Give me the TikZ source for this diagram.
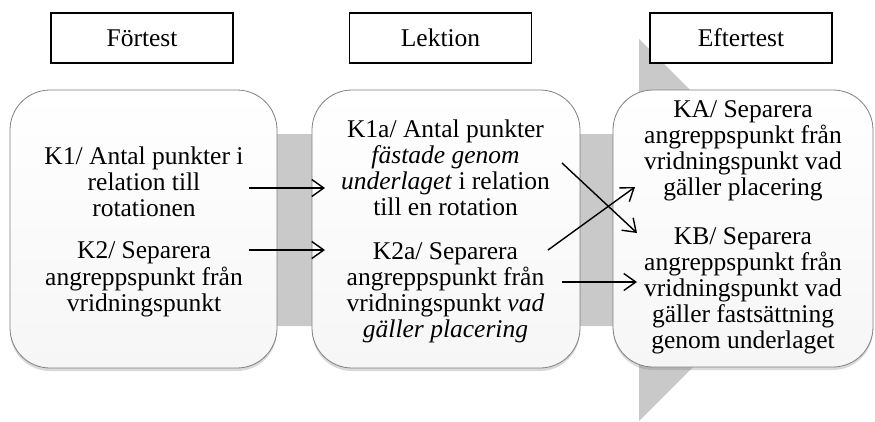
\documentclass[tikz,border=0pt]{standalone}
\usepackage{fontspec}
\setmainfont{Liberation Serif}
\definecolor{bandgray}{RGB}{201, 201, 201}
\definecolor{panelgray}{RGB}{246, 246, 246}
\definecolor{rimgray}{RGB}{128, 128, 128}
\usetikzlibrary{arrows.meta, shadows}

\begin{document}
\begin{tikzpicture}[x=1bp,y=-1bp,
	txt/.style={font=\fontsize{25.5bp}{26bp}\selectfont},
	headbox/.style={txt,draw=black,line width=1.2bp,fill=white,minimum width=182bp,minimum height=50bp},
	phase/.style={draw=rimgray,line width=0.8bp,rounded corners=40bp,top color=white,bottom color=panelgray,
		drop shadow={shadow xshift=0bp,shadow yshift=-3bp,opacity=0.3}},
	link/.style={line width=1.4bp,-{Straight Barb[length=12bp,width=17bp]}}]
	\useasboundingbox (0,0) rectangle (875,421);
	
	% pilen bakom
	\fill[bandgray] (30,134) -- (639,134) -- (639,39) -- (830,230) -- (639,421) -- (639,326) -- (30,326) -- cycle;
	
	\node[headbox] (fore) at (142,38) {Förtest};
	\node[headbox] (lekt) at (440.5,38) {Lektion};
	\node[headbox] (efter) at (741,38) {Eftertest};
	
	\draw[phase] (10,90) rectangle (277,368);
	\draw[phase] (312,90) rectangle (580,368);
	\draw[phase] (613,90) rectangle (873,367);
	
	\node[txt] (k1) at (144,184.8){\begin{tabular}{c}K1/ Antal punkter i\\relation till\\rotationen\end{tabular}};
	\node[txt] (k2) at (144,279.8){\begin{tabular}{c}K2/ Separera\\angreppspunkt från\\vridningspunkt\end{tabular}};
	
	\node[txt] (k1a) at (445.5,171.3){\begin{tabular}{c}K1a/ Antal punkter\\\textit{fästade genom}\\\textit{underlaget} i relation\\till en rotation\end{tabular}};
	\node[txt] (k2a) at (445.5,293.3){\begin{tabular}{c}K2a/ Separera\\angreppspunkt från\\vridningspunkt \textit{vad}\\\textit{gäller placering}\end{tabular}};
	
	\node[txt] (ka) at (743,151.3){\begin{tabular}{c}KA/ Separera\\angreppspunkt från\\vridningspunkt vad\\gäller placering\end{tabular}};
	\node[txt] (kb) at (743,291.3){\begin{tabular}{c}KB/ Separera\\angreppspunkt från\\vridningspunkt vad\\gäller fastsättning\\genom underlaget\end{tabular}};
	
	% pilar mellan kategorierna
	\coordinate (k1ut) at (249,188);
	\coordinate (k1ain) at (325,188);
	\coordinate (k2ut) at (249,250);
	\coordinate (k2ain) at (325,250);
	\coordinate (k1aut) at (562,163);
	\coordinate (kbin) at (637,233);
	\coordinate (k2aut) at (548,250);
	\coordinate (kain) at (635,187);
	\coordinate (k2aut2) at (562,282);
	\coordinate (kbin2) at (637,282);
	
	\draw[link] (k1ut) -- (k1ain);
	\draw[link] (k2ut) -- (k2ain);
	\draw[link] (k1aut) -- (kbin);
	\draw[link] (k2aut) -- (kain);
	\draw[link] (k2aut2) -- (kbin2);
\end{tikzpicture}
\end{document}
